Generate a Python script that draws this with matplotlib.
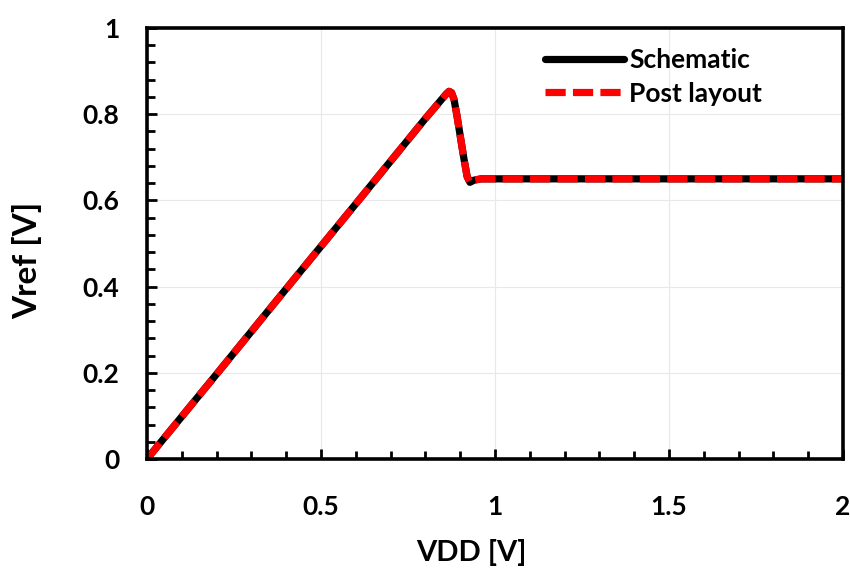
import numpy as np
import matplotlib.pyplot as plt
from matplotlib.ticker import MultipleLocator

plt.rcParams['font.family'] = ['Lato', 'DejaVu Sans']
plt.rcParams['font.weight'] = 'bold'

# VDD sweep and reference voltage
vdd = [0.0, 0.2, 0.4, 0.6, 0.8, 0.84, 0.86, 0.868, 0.875, 0.882, 0.89, 0.90,
       0.91, 0.92, 0.928, 0.94, 0.96, 1.0, 1.5, 2.0]
vref_sch = [0.0, 0.197, 0.395, 0.592, 0.79, 0.828, 0.847, 0.853, 0.85, 0.835,
            0.80, 0.75, 0.70, 0.655, 0.642, 0.647, 0.65, 0.65, 0.65, 0.65]
vref_post = [0.0, 0.197, 0.395, 0.592, 0.79, 0.828, 0.847, 0.853, 0.85, 0.835,
             0.80, 0.75, 0.70, 0.655, 0.642, 0.647, 0.65, 0.65, 0.65, 0.65]

fig = plt.figure(figsize=(8.5, 5.74), dpi=100)
ax = fig.add_axes([147/850, 1 - 459/574, (843-147)/850, (459-28)/574])

ax.plot(vdd, vref_sch, color='black', lw=5.2, label='Schematic',
        solid_joinstyle='round', solid_capstyle='round')
ax.plot(vdd, vref_post, color='#ff0000', lw=5.2, ls=(0, (2.8, 1.0)),
        label='Post layout', dash_capstyle='butt', dash_joinstyle='round')

ax.set_xlim(0, 2)
ax.set_ylim(0, 1)
ax.xaxis.set_minor_locator(MultipleLocator(0.1))
ax.yaxis.set_minor_locator(MultipleLocator(0.04))
ax.set_xticks([0, 0.5, 1, 1.5, 2])
ax.set_xticklabels(['0', '0.5', '1', '1.5', '2'])
ax.set_yticks([0, 0.2, 0.4, 0.6, 0.8, 1])
ax.set_yticklabels(['0', '0.2', '0.4', '0.6', '0.8', '1'])

ax.grid(True, which='major', color='#e8e8e8', lw=0.8)
ax.set_axisbelow(True)

ax.tick_params(which='both', direction='in', top=False, right=False,
               width=2.0, labelsize=19)
ax.tick_params(which='major', length=7)
ax.tick_params(which='minor', length=6)
ax.tick_params(axis='x', which='major', pad=26)
ax.tick_params(axis='y', which='major', pad=20)

for s in ax.spines.values():
    s.set_linewidth(2.6)

ax.set_xlabel('VDD [V]', fontsize=21, fontweight='bold')
ax.xaxis.set_label_coords(0.466, -0.185)
ax.set_ylabel('Vref [V]', fontsize=24, fontweight='bold')
ax.yaxis.set_label_coords(-0.151, 0.46)

leg = ax.legend(loc='upper left', frameon=False, fontsize=19,
                handlelength=3.0, handletextpad=0.2, labelspacing=0.36,
                borderpad=0, borderaxespad=0,
                bbox_to_anchor=(545/850, 1 - 48/574),
                bbox_transform=fig.transFigure)

fig.savefig('out.png', dpi=100)
